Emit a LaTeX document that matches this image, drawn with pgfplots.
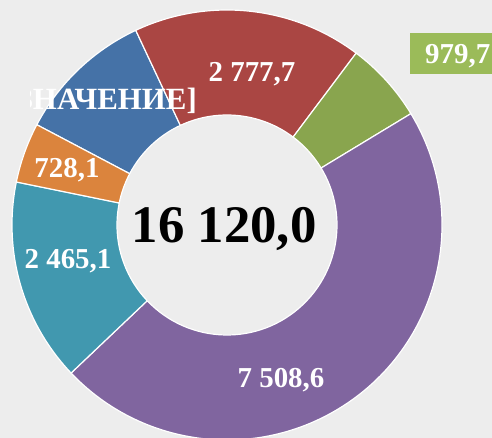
\documentclass[border=0pt]{standalone}
\usepackage{fontspec}
\setmainfont{Liberation Serif}
\usepackage{pgfplots}
\usepackage{pgfplotstable}
\pgfplotsset{compat=1.18}

\definecolor{bgpaper}{HTML}{EDEDED}
\definecolor{segblue}{HTML}{4572A7}
\definecolor{segred}{HTML}{AA4643}
\definecolor{seggreen}{HTML}{89A54E}
\definecolor{segpurple}{HTML}{80659F}
\definecolor{segteal}{HTML}{4198AF}
\definecolor{segorange}{HTML}{DB843D}
\definecolor{lblgreen}{HTML}{9BBB59}

% slices clockwise, starting with the blue one
\pgfplotstableread{
value  color
1660.8 segblue
2777.7 segred
979.7  seggreen
7508.6 segpurple
2465.1 segteal
728.1  segorange
}\donutdata

\begin{document}
\begin{tikzpicture}
% total and slice angles from the table
\xdef\total{0}
\foreach \i in {0,...,5}{%
  \pgfplotstablegetelem{\i}{value}\of\donutdata
  \pgfmathsetmacro\t{\total+\pgfplotsretval}%
  \xdef\total{\t}}
\xdef\cur{152.2}
\foreach \i in {0,...,5}{%
  \pgfplotstablegetelem{\i}{value}\of\donutdata
  \pgfmathsetmacro\b{\cur-(\pgfplotsretval/\total)*360}%
  \expandafter\xdef\csname sa\i\endcsname{\cur}%
  \expandafter\xdef\csname ea\i\endcsname{\b}%
  \pgfplotstablegetelem{\i}{color}\of\donutdata
  \expandafter\xdef\csname sc\i\endcsname{\pgfplotsretval}%
  \xdef\cur{\b}}

\begin{axis}[
  width=492bp, height=438bp, scale only axis,
  xmin=0, xmax=492, ymin=0, ymax=438,
  hide axis, clip=true,
]
\fill[bgpaper] (axis cs:0,0) rectangle (axis cs:492,438);
\pgfplotsinvokeforeach{0,...,5}{
  \filldraw[fill=\csname sc#1\endcsname, draw=white, line width=1.2pt, line join=round]
    ([shift={(axis cs:227,213)}]\csname sa#1\endcsname:215bp)
    arc[start angle=\csname sa#1\endcsname, end angle=\csname ea#1\endcsname, radius=215bp]
    -- ([shift={(axis cs:227,213)}]\csname ea#1\endcsname:110bp)
    arc[start angle=\csname ea#1\endcsname, end angle=\csname sa#1\endcsname, radius=110bp]
    -- cycle;
}
\fill[lblgreen] (axis cs:410,364) rectangle (axis cs:505,405);
\begin{scope}[every node/.style={inner sep=0pt, text=white, font=\bfseries\fontsize{29}{32}\selectfont}]
\node[anchor=base] at (axis cs:252,356) {2 777,7};
\node[anchor=base west] at (axis cs:425,374) {979,7};
\node[anchor=base] at (axis cs:281,50) {7 508,6};
\node[anchor=base] at (axis cs:68,169) {2 465,1};
\node[anchor=base] at (axis cs:67,260) {728,1};
\end{scope}
% the label box of this one is too narrow and cuts its text
\begin{scope}
\clip (axis cs:30,0) rectangle (axis cs:492,438);
\node[anchor=base east, inner sep=0pt, text=white, font=\bfseries\fontsize{31}{34}\selectfont] at (axis cs:197,328) {[ЗНАЧЕНИЕ]};
\end{scope}
\node[anchor=base, inner sep=0pt, font=\bfseries\fontsize{53}{60}\selectfont] at (axis cs:224,195) {16 120,0};
\end{axis}
\pgfresetboundingbox
\useasboundingbox (current axis.south west) rectangle (current axis.north east);
\end{tikzpicture}
\end{document}
